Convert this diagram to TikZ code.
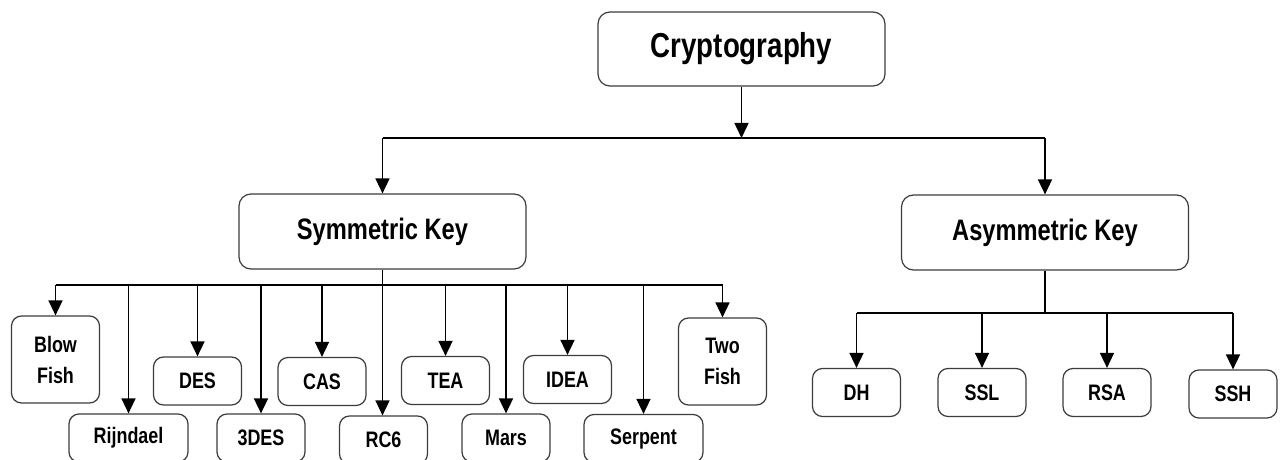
\documentclass[tikz,border=0pt]{standalone}
\usepackage{fontspec}
\setmainfont{Liberation Sans}[FakeStretch=0.8]
\usepackage{tikz}
\usetikzlibrary{arrows.meta}
\usepackage{color}
\definecolor{boxline}{RGB}{60, 60, 60}

\begin{document}
\begin{tikzpicture}[x=0.5pt, y=-0.5pt,
        box/.style    = {draw=boxline, line width=0.6pt, rounded corners=5pt, fill=white, inner sep=0pt, align=center,
                         minimum width=44pt, minimum height=24pt, font=\bfseries\fontsize{11.2}{15.5}\selectfont},
        tallbox/.style = {box, minimum height=43.5pt},
        widebox/.style = {box, minimum width=59.5pt},
        bigbox/.style = {box, rounded corners=6pt, minimum width=143.5pt, minimum height=37.5pt,
                         font=\bfseries\fontsize{14.8}{17}\selectfont},
        link/.style   = {line width=0.8pt},
        arr/.style    = {link, -{Triangle[width=7pt, length=7.5pt]}}]
            \useasboundingbox (0,0) rectangle (1280,460);
            \fill[white]      (0,0) rectangle (1280,460);

            \node[bigbox, minimum height=37pt, font=\bfseries\fontsize{17.3}{20}\selectfont] (crypto) at ( 741.5,  49.0) {Cryptography};
            \node[bigbox]                                                                  (sym)    at ( 382.5, 231.5) {Symmetric Key};
            \node[bigbox]                                                                  (asym)   at (1045.0, 232.5) {Asymmetric Key};

            \node[tallbox] (blow) at (  55.5, 359.5) {Blow\\Fish};
            \node[widebox] (rij)  at ( 128.5, 438.0) {Rijndael};
            \node[box]     (des)  at ( 197.5, 381.0) {DES};
            \node[box]     (tdes) at ( 261.0, 438.0) {3DES};
            \node[box]     (cas)  at ( 322.0, 381.5) {CAS};
            \node[box]     (rc)   at ( 383.5, 440.0) {RC6};
            \node[box]     (tea)  at ( 445.5, 380.5) {TEA};
            \node[box]     (mars) at ( 506.0, 438.0) {Mars};
            \node[box]     (idea) at ( 567.5, 379.5) {IDEA};
            \node[widebox] (serp) at ( 643.5, 438.5) {Serpent};
            \node[tallbox] (two)  at ( 722.5, 361.5) {Two\\Fish};

            \node[box]     (dh)   at ( 856.5, 392.5) {DH};
            \node[box]     (ssl)  at ( 982.0, 392.5) {SSL};
            \node[box]     (rsa)  at (1107.0, 392.5) {RSA};
            \node[box]     (ssh)  at (1233.0, 394.0) {SSH};

            \coordinate (tbar) at ( 741.5, 138);
            \coordinate (sbar) at ( 382.5, 285);
            \coordinate (abar) at (1045.0, 313);

            \draw[arr]  (crypto.south) -- (tbar);
            \draw[link] (sym.north |- tbar) -- (asym.north |- tbar);
            \draw[arr]  (sym.north |- tbar) -- (sym.north);
            \draw[arr]  (asym.north |- tbar) -- (asym.north);

            \draw[arr]  (sym.south) -- (sym.south |- rc.north);
            \draw[link] (blow.north |- sbar) -- (two.north |- sbar);
            \foreach \n in {blow, rij, des, tdes, cas, tea, mars, idea, serp, two}
                \draw[arr] (\n.north |- sbar) -- (\n.north);

            \draw[link] (asym.south) -- (abar);
            \draw[link] (dh.north |- abar) -- (ssh.north |- abar);
            \foreach \n in {dh, ssl, rsa, ssh}
                \draw[arr] (\n.north |- abar) -- (\n.north);
        \end{tikzpicture}
\end{document}
